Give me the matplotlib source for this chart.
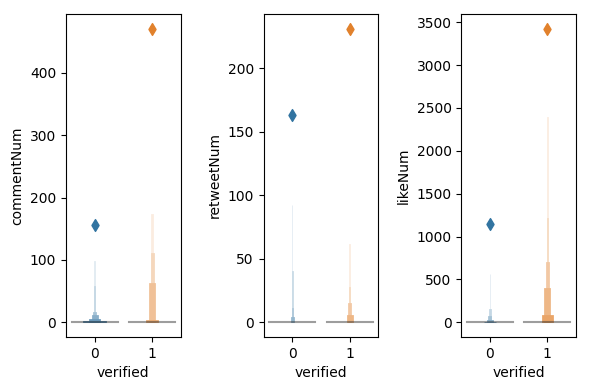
import numpy as np
import matplotlib
matplotlib.use("Agg")
import matplotlib.pyplot as plt
from matplotlib.patches import Rectangle
from matplotlib.collections import PatchCollection
import matplotlib.colors as mcolors

categories = ["0", "1"]
metrics = ["commentNum", "retweetNum", "likeNum"]

# letter-value upper bounds (innermost level first); lower bounds are 0
comment_levels = [[0, 2, 6, 12, 17, 58, 98], [0, 0, 3, 63, 111, 174]]
retweet_levels = [[0, 0, 0, 0, 4, 11, 40, 92], [0, 0, 0, 6, 15, 28, 62]]
like_levels = [[0, 0, 8, 23, 70, 150, 560], [0, 0, 82, 397, 700, 1213, 2392]]
level_lows = 0

medians = {"commentNum": [0, 0], "retweetNum": [0, 0], "likeNum": [0, 0]}
outliers = {"commentNum": [[156], [471]],
            "retweetNum": [[163], [231]],
            "likeNum": [[1143], [3425]]}
levels = {"commentNum": comment_levels, "retweetNum": retweet_levels,
          "likeNum": like_levels}

palette = ["#3274a1", "#e1812c"]
width = 0.8

fig, axes = plt.subplots(1, 3, figsize=(5.89, 3.9), dpi=100)
fig.subplots_adjust(left=66 / 589, right=576 / 589, bottom=1 - 337 / 390,
                    top=1 - 14 / 390, wspace=83 / 115)
for ax, metric in zip(axes, metrics):
    for i, cat in enumerate(categories):
        ups = levels[metric][i]
        k = len(ups)
        hexc = palette[i]
        cm1 = mcolors.LinearSegmentedColormap.from_list("m", [hexc, (1, 1, 1)])
        cmap = mcolors.LinearSegmentedColormap.from_list("n", [hexc, cm1(.85)])
        boxes = []
        vals = []
        for j in range(k - 1, -1, -1):
            h = ups[j] - level_lows
            if h <= 0:
                continue
            w = width * 0.5 ** j
            boxes.append(Rectangle((i - w / 2, level_lows), w, h))
            vals.append(j / (k - 1))
        coll = PatchCollection(boxes, cmap=cmap, edgecolor="face", linewidth=0.55)
        coll.set_array(np.array(vals))
        coll.set_clim(0, 1)
        ax.add_collection(coll)
        ax.plot([i - width / 2, i + width / 2], [medians[metric][i]] * 2,
                c=".15", alpha=.45, lw=1.5)
        ax.scatter([i] * len(outliers[metric][i]), outliers[metric][i],
                   marker="d", c=hexc, s=36)
    ax.set_xlim(-0.5, 1.5)
    ax.autoscale_view(scalex=False)
    ax.set_xticks([0, 1])
    ax.set_xticklabels(categories)
    ax.set_xlabel("verified")
    ax.set_ylabel(metric)

fig.savefig("out.png", dpi=100)
